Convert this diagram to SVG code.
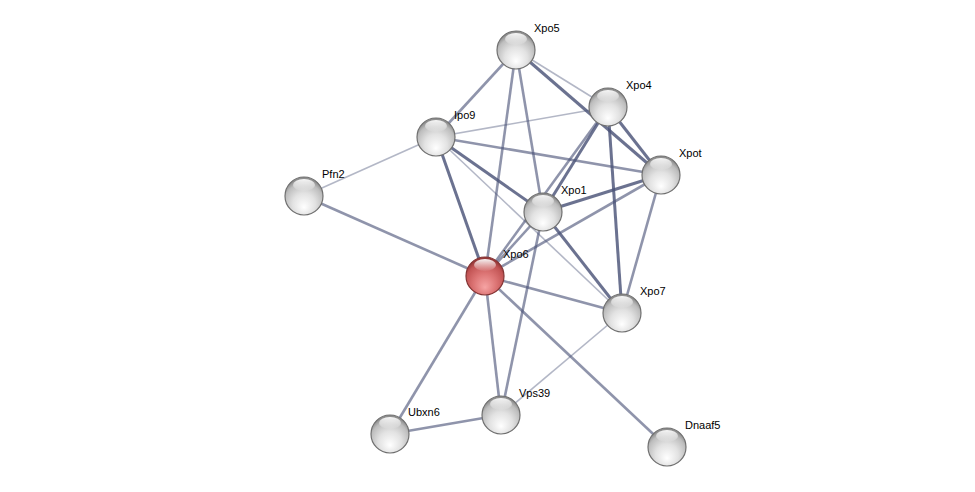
<svg xmlns="http://www.w3.org/2000/svg" width="975" height="492" viewBox="0 0 975 492">
<defs>
<radialGradient id="gGray" cx="50%" cy="65%" r="60%" fx="50%" fy="80%">
<stop offset="0" stop-color="#ffffff"/>
<stop offset="0.5" stop-color="#e2e2e2"/>
<stop offset="0.85" stop-color="#bdbdbd"/>
<stop offset="1" stop-color="#8e8e8e"/>
</radialGradient>
<radialGradient id="gRed" cx="50%" cy="65%" r="60%" fx="50%" fy="80%">
<stop offset="0" stop-color="#f6a4a4"/>
<stop offset="0.5" stop-color="#dc7474"/>
<stop offset="0.85" stop-color="#c25454"/>
<stop offset="1" stop-color="#963838"/>
</radialGradient>
<linearGradient id="gHi" x1="0" y1="0" x2="0" y2="1">
<stop offset="0" stop-color="#ffffff" stop-opacity="0.95"/>
<stop offset="1" stop-color="#ffffff" stop-opacity="0.05"/>
</linearGradient>
</defs>
<style>
.e{stroke:#4a5378;fill:none;stroke-linecap:butt}
.s{stroke-width:3;stroke-opacity:0.82}
.m{stroke-width:2.6;stroke-opacity:0.62}
.l{stroke-width:1.6;stroke-opacity:0.42}
.n{fill:url(#gGray);stroke:#707070;stroke-width:1.2}
.r{fill:url(#gRed);stroke:#843434;stroke-width:1.2}
.h{fill:url(#gHi)}
text{font-family:"Liberation Sans",Arial,sans-serif;font-size:11px;fill:#000}
</style>
<rect width="975" height="492" fill="#ffffff"/>
<g id="edges">
<line class="e m" x1="516" y1="50" x2="436" y2="137"/>
<line class="e m" x1="516" y1="50" x2="485" y2="276"/>
<line class="e m" x1="516" y1="50" x2="543" y2="212"/>
<line class="e l" x1="516" y1="50" x2="608" y2="107"/>
<line class="e s" x1="516" y1="50" x2="661" y2="175"/>
<line class="e l" x1="436" y1="137" x2="608" y2="107"/>
<line class="e m" x1="436" y1="137" x2="661" y2="175"/>
<line class="e s" x1="436" y1="137" x2="543" y2="212"/>
<line class="e l" x1="436" y1="137" x2="622" y2="313"/>
<line class="e s" x1="436" y1="137" x2="485" y2="276"/>
<line class="e l" x1="436" y1="137" x2="304" y2="196"/>
<line class="e s" x1="608" y1="107" x2="543" y2="212"/>
<line class="e m" x1="608" y1="107" x2="485" y2="276"/>
<line class="e s" x1="608" y1="107" x2="622" y2="313"/>
<line class="e s" x1="608" y1="107" x2="661" y2="175"/>
<line class="e s" x1="661" y1="175" x2="543" y2="212"/>
<line class="e m" x1="661" y1="175" x2="485" y2="276"/>
<line class="e m" x1="661" y1="175" x2="622" y2="313"/>
<line class="e s" x1="543" y1="212" x2="622" y2="313"/>
<line class="e m" x1="543" y1="212" x2="485" y2="276"/>
<line class="e m" x1="543" y1="212" x2="501" y2="415"/>
<line class="e m" x1="485" y1="276" x2="304" y2="196"/>
<line class="e m" x1="485" y1="276" x2="622" y2="313"/>
<line class="e m" x1="485" y1="276" x2="501" y2="415"/>
<line class="e m" x1="485" y1="276" x2="390" y2="434"/>
<line class="e m" x1="485" y1="276" x2="667" y2="447"/>
<line class="e m" x1="501" y1="415" x2="390" y2="434"/>
<line class="e l" x1="622" y1="313" x2="501" y2="415"/>
</g>
<g id="node-Xpo5"><circle class="n" cx="516" cy="50" r="19"/><ellipse class="h" cx="516" cy="39" rx="11" ry="6"/><text x="534" y="32">Xpo5</text></g>
<g id="node-Xpo4"><circle class="n" cx="608" cy="107" r="19"/><ellipse class="h" cx="608" cy="96" rx="11" ry="6"/><text x="626" y="89">Xpo4</text></g>
<g id="node-Ipo9"><circle class="n" cx="436" cy="137" r="19"/><ellipse class="h" cx="436" cy="126" rx="11" ry="6"/><text x="454" y="119">Ipo9</text></g>
<g id="node-Xpot"><circle class="n" cx="661" cy="175" r="19"/><ellipse class="h" cx="661" cy="164" rx="11" ry="6"/><text x="679" y="157">Xpot</text></g>
<g id="node-Pfn2"><circle class="n" cx="304" cy="196" r="19"/><ellipse class="h" cx="304" cy="185" rx="11" ry="6"/><text x="322" y="178">Pfn2</text></g>
<g id="node-Xpo1"><circle class="n" cx="543" cy="212" r="19"/><ellipse class="h" cx="543" cy="201" rx="11" ry="6"/><text x="561" y="194">Xpo1</text></g>
<g id="node-Xpo6"><circle class="r" cx="485" cy="276" r="19"/><ellipse class="h" cx="485" cy="265" rx="11" ry="6"/><text x="503" y="258">Xpo6</text></g>
<g id="node-Xpo7"><circle class="n" cx="622" cy="313" r="19"/><ellipse class="h" cx="622" cy="302" rx="11" ry="6"/><text x="640" y="295">Xpo7</text></g>
<g id="node-Vps39"><circle class="n" cx="501" cy="415" r="19"/><ellipse class="h" cx="501" cy="404" rx="11" ry="6"/><text x="519" y="397">Vps39</text></g>
<g id="node-Ubxn6"><circle class="n" cx="390" cy="434" r="19"/><ellipse class="h" cx="390" cy="423" rx="11" ry="6"/><text x="408" y="416">Ubxn6</text></g>
<g id="node-Dnaaf5"><circle class="n" cx="667" cy="447" r="19"/><ellipse class="h" cx="667" cy="436" rx="11" ry="6"/><text x="685" y="429">Dnaaf5</text></g>
</svg>
